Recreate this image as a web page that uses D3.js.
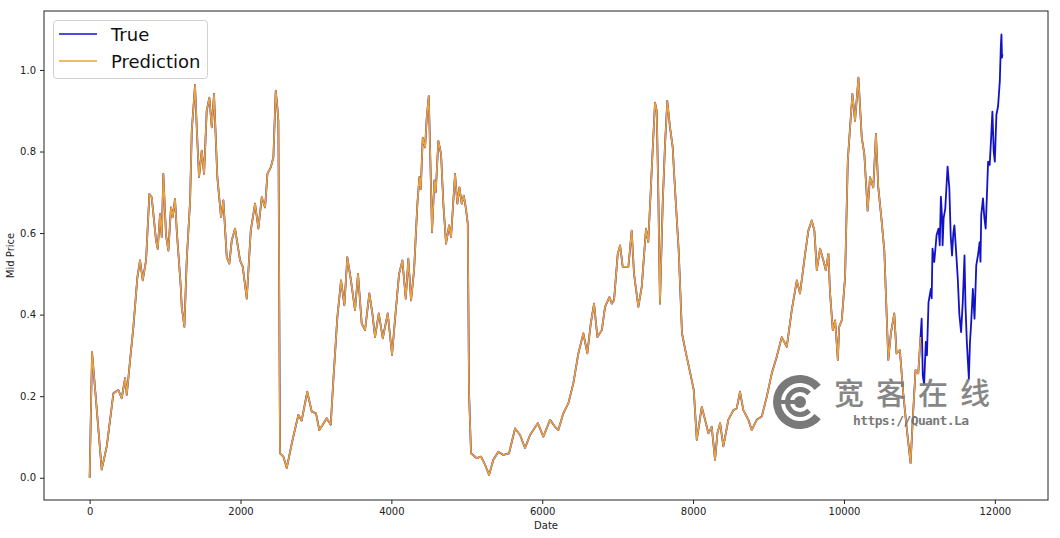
<!DOCTYPE html>
<html>
<head>
<meta charset="utf-8">
<script src="https://cdn.jsdelivr.net/npm/d3@7"></script>
<style>
  body { margin: 0; background: #fff; }
  svg { display: block; font-family: "DejaVu Sans", sans-serif; }
</style>
</head>
<body>
<script>
// Data ===============================================
// Part where True and Prediction overlap (both series)
const sharedDates = [0,32,160,227,315,381,425,470,492,536,580,633,668,704,748,792,823,880,903,933,956,977,1013,1044,1079,1101,1132,1155,1208,1221,1256,1287,1332,1354,1397,1420,1450,1486,1517,1552,1587,1619,1649,1693,1742,1773,1818,1852,1884,1928,1994,2030,2083,2136,2193,2237,2282,2326,2357,2401,2436,2467,2489,2502,2524,2568,2613,2690,2767,2811,2885,2945,3001,3045,3090,3143,3196,3231,3284,3333,3377,3416,3461,3518,3558,3607,3651,3708,3748,3784,3833,3886,3952,4009,4049,4102,4146,4191,4225,4261,4301,4345,4371,4390,4416,4447,4469,4496,4517,4539,4570,4588,4623,4659,4689,4725,4765,4791,4844,4875,4902,4933,4960,4986,5013,5030,5056,5132,5189,5242,5295,5352,5418,5485,5560,5640,5706,5772,5839,5941,6015,6104,6170,6214,6280,6347,6413,6479,6545,6598,6643,6687,6731,6790,6833,6890,6922,6952,7001,7032,7067,7142,7186,7217,7274,7319,7376,7406,7451,7495,7518,7539,7561,7597,7628,7658,7694,7730,7751,7809,7853,7897,7963,8009,8049,8115,8159,8203,8247,8291,8322,8358,8401,8467,8534,8578,8622,8666,8733,8777,8843,8910,8977,9043,9109,9176,9242,9308,9375,9418,9485,9528,9573,9608,9640,9683,9727,9759,9794,9816,9852,9883,9919,9936,9971,10015,10051,10081,10112,10147,10192,10236,10270,10314,10345,10389,10424,10455,10499,10535,10588,10622,10667,10697,10741,10786,10830,10883,10919,10949,10985,11015];
const sharedPrice = [0.0,0.308,0.02,0.077,0.207,0.215,0.195,0.244,0.203,0.288,0.37,0.492,0.533,0.484,0.533,0.696,0.688,0.582,0.561,0.647,0.59,0.745,0.594,0.557,0.663,0.639,0.684,0.606,0.468,0.419,0.37,0.533,0.68,0.851,0.963,0.859,0.737,0.802,0.745,0.9,0.932,0.859,0.941,0.737,0.639,0.68,0.541,0.525,0.582,0.611,0.533,0.517,0.439,0.606,0.672,0.611,0.688,0.663,0.745,0.761,0.786,0.949,0.908,0.875,0.06,0.052,0.024,0.093,0.154,0.14,0.211,0.162,0.158,0.117,0.13,0.146,0.13,0.24,0.394,0.484,0.423,0.541,0.488,0.411,0.5,0.378,0.362,0.452,0.403,0.345,0.403,0.342,0.403,0.301,0.39,0.5,0.533,0.439,0.537,0.435,0.509,0.672,0.737,0.708,0.834,0.81,0.883,0.936,0.778,0.602,0.729,0.7,0.826,0.794,0.672,0.574,0.619,0.59,0.745,0.672,0.712,0.672,0.692,0.663,0.623,0.207,0.06,0.048,0.052,0.032,0.007,0.044,0.064,0.056,0.06,0.121,0.105,0.073,0.105,0.134,0.101,0.142,0.125,0.117,0.158,0.183,0.232,0.305,0.354,0.305,0.378,0.427,0.345,0.362,0.419,0.443,0.427,0.435,0.549,0.57,0.517,0.517,0.606,0.5,0.419,0.468,0.611,0.578,0.753,0.92,0.9,0.696,0.427,0.672,0.818,0.924,0.859,0.81,0.737,0.557,0.354,0.313,0.256,0.215,0.093,0.174,0.142,0.109,0.125,0.044,0.109,0.134,0.077,0.142,0.166,0.17,0.211,0.166,0.142,0.117,0.142,0.15,0.199,0.256,0.297,0.345,0.321,0.411,0.484,0.452,0.549,0.606,0.631,0.606,0.509,0.562,0.533,0.509,0.549,0.452,0.362,0.386,0.289,0.37,0.386,0.492,0.778,0.859,0.941,0.875,0.981,0.834,0.794,0.655,0.737,0.712,0.843,0.712,0.631,0.557,0.289,0.354,0.403,0.305,0.313,0.207,0.125,0.036,0.166,0.264,0.256,0.345];

// Tail where only True is plotted
const tailDates = [11030,11045,11063,11085,11100,11121,11152,11163,11174,11197,11228,11254,11270,11285,11300,11308,11321,11343,11374,11397,11415,11433,11450,11464,11487,11509,11530,11553,11575,11598,11611,11629,11656,11670,11687,11709,11731,11754,11776,11799,11810,11820,11843,11860,11879,11911,11932,11950,11968,11985,12000,12021,12043,12066,12080,12088,12095,12101];
const tailPrice = [0.39,0.25,0.23,0.333,0.3,0.43,0.463,0.44,0.562,0.529,0.595,0.611,0.57,0.689,0.64,0.57,0.636,0.66,0.763,0.71,0.595,0.545,0.6,0.619,0.554,0.488,0.4,0.357,0.431,0.545,0.423,0.333,0.242,0.33,0.381,0.463,0.39,0.521,0.545,0.578,0.53,0.644,0.685,0.64,0.611,0.775,0.767,0.83,0.898,0.8,0.775,0.89,0.911,0.972,1.06,1.087,1.03,1.038];

const xTicks = [0,2000,4000,6000,8000,10000,12000];
const yTicks = [0.0,0.2,0.4,0.6,0.8,1.0];
const seriesNames = ["True","Prediction"];
const seriesColors = ["#1212c8","#f0a22e"];

// Build point lists
const predData = sharedDates.map((d,i) => ({date: d, price: sharedPrice[i]}));
const trueData = predData.concat(tailDates.map((d,i) => ({date: d, price: tailPrice[i]})));

// Chart =============================================
const width = 1060, height = 538;
const margin = {top: 11, right: 12, bottom: 38, left: 44};

const svg = d3.select("body").append("svg")
    .attr("width", width)
    .attr("height", height);

const x = d3.scaleLinear()
    .domain([-605, 12705])
    .range([margin.left, width - margin.right]);

const y = d3.scaleLinear()
    .domain([-0.0545, 1.1445])
    .range([height - margin.bottom, margin.top]);

const line = d3.line()
    .x(d => x(d.date))
    .y(d => y(d.price));

const plot = svg.append("g");

plot.append("path")
    .datum(trueData)
    .attr("fill", "none")
    .attr("stroke", seriesColors[0])
    .attr("stroke-width", 1.8)
    .attr("stroke-linejoin", "round")
    .attr("d", line);

plot.append("path")
    .datum(predData)
    .attr("fill", "none")
    .attr("stroke", seriesColors[1])
    .attr("stroke-width", 1.6)
    .attr("stroke-linejoin", "round")
    .attr("d", line);

// Axes
const xAxis = svg.append("g")
    .attr("transform", `translate(0,${height - margin.bottom})`)
    .call(d3.axisBottom(x).tickValues(xTicks).tickFormat(d3.format("d")).tickSizeOuter(0).tickSize(4).tickPadding(4));

const yAxis = svg.append("g")
    .attr("transform", `translate(${margin.left},0)`)
    .call(d3.axisLeft(y).tickValues(yTicks).tickFormat(d3.format(".1f")).tickSizeOuter(0).tickSize(4).tickPadding(4));

[xAxis, yAxis].forEach(a => {
  a.select(".domain").remove();
  a.selectAll("text").attr("font-size", 10).attr("fill", "#222").attr("font-family", "DejaVu Sans");
  a.selectAll("line").attr("stroke", "#222");
});

// Frame
svg.append("rect")
    .attr("x", margin.left)
    .attr("y", margin.top)
    .attr("width", width - margin.left - margin.right)
    .attr("height", height - margin.top - margin.bottom)
    .attr("fill", "none")
    .attr("stroke", "#222")
    .attr("stroke-width", 1);

// Axis labels
svg.append("text")
    .attr("x", (margin.left + width - margin.right) / 2)
    .attr("y", 529)
    .attr("text-anchor", "middle")
    .attr("font-size", 10)
    .attr("fill", "#222")
    .text("Date");

svg.append("text")
    .attr("transform", `translate(14,${(margin.top + height - margin.bottom) / 2}) rotate(-90)`)
    .attr("text-anchor", "middle")
    .attr("font-size", 10)
    .attr("fill", "#222")
    .text("Mid Price");

// Legend
const legend = svg.append("g");
legend.append("rect")
    .attr("x", 53.5).attr("y", 20.5)
    .attr("width", 154).attr("height", 58)
    .attr("rx", 3)
    .attr("fill", "#fff").attr("fill-opacity", 0.8)
    .attr("stroke", "#d0d0d0");

seriesNames.forEach((name, i) => {
  const ly = 34 + i * 27;
  legend.append("line")
      .attr("x1", 59).attr("x2", 97)
      .attr("y1", ly).attr("y2", ly)
      .attr("stroke", seriesColors[i])
      .attr("stroke-width", 1.6);
  legend.append("text")
      .attr("x", 111).attr("y", ly + 6.5)
      .attr("font-size", 18)
      .attr("fill", "#111")
      .text(name);
});

// Watermark (C-shaped logo opening to the right)
const wm = svg.append("g").attr("opacity", 0.9);
const cx = 800, cy = 402;
const arc = d3.arc();
wm.append("path")
    .attr("transform", `translate(${cx},${cy})`)
    .attr("d", arc({innerRadius: 19, outerRadius: 27, startAngle: Math.PI * 0.72, endAngle: Math.PI * 2.28}))
    .attr("fill", "#6b6b6b");
wm.append("path")
    .attr("transform", `translate(${cx},${cy})`)
    .attr("d", arc({innerRadius: 10, outerRadius: 15, startAngle: Math.PI * 0.74, endAngle: Math.PI * 2.26}))
    .attr("fill", "#6b6b6b");
wm.append("rect")
    .attr("x", cx - 24).attr("y", cy - 2)
    .attr("width", 22).attr("height", 4)
    .attr("fill", "#6b6b6b");
wm.append("circle")
    .attr("cx", cx).attr("cy", cy).attr("r", 6)
    .attr("fill", "#6b6b6b");
wm.append("text")
    .attr("x", 834).attr("y", 404)
    .attr("font-family", "Noto Sans CJK SC")
    .attr("font-size", 30)
    .attr("font-weight", 500)
    .attr("textLength", 156)
    .attr("lengthAdjust", "spacing")
    .attr("fill", "#7a7a7a")
    .text("宽客在线");
wm.append("text")
    .attr("x", 853).attr("y", 425)
    .attr("font-family", "DejaVu Sans Mono")
    .attr("font-size", 13)
    .attr("font-weight", "bold")
    .attr("textLength", 116)
    .attr("fill", "#6b6b6b")
    .text("https://Quant.La");
</script>
</body>
</html>
